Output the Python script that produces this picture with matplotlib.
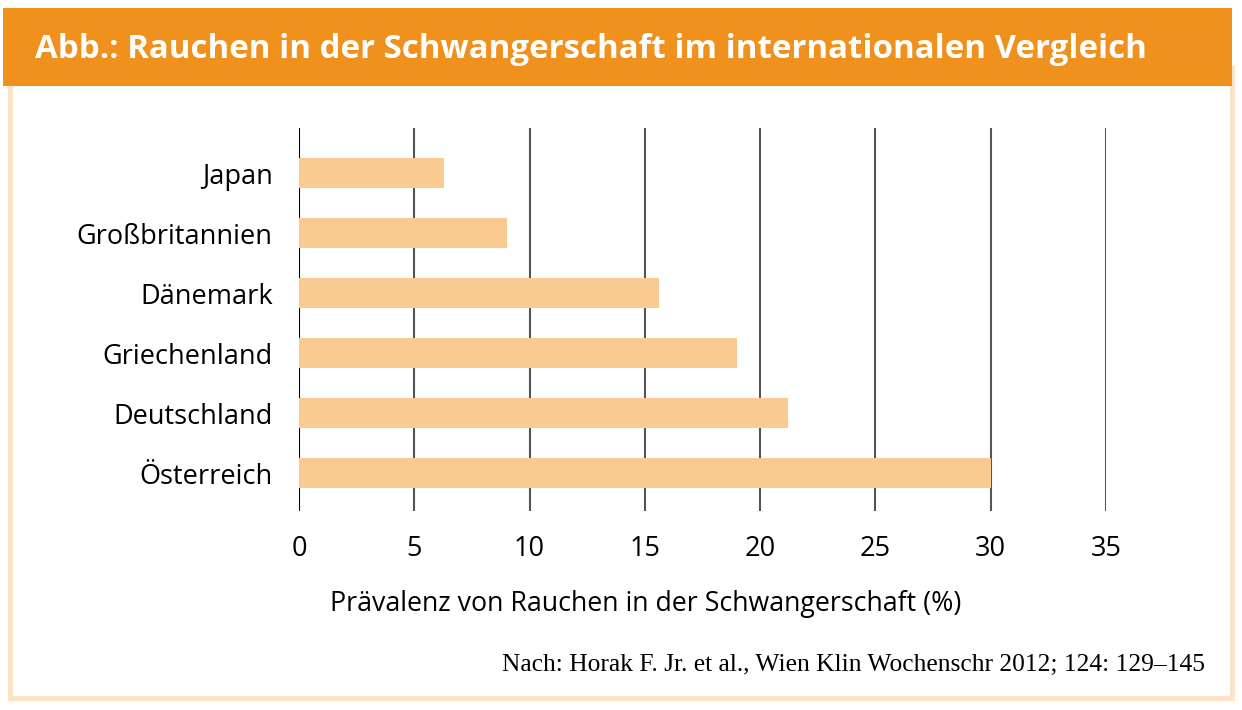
import matplotlib
matplotlib.use("Agg")
import matplotlib.pyplot as plt
from matplotlib.patches import Rectangle

countries = ["Österreich", "Deutschland", "Griechenland", "Dänemark", "Großbritannien", "Japan"]
values = [30.0, 21.2, 19.0, 15.6, 9.0, 6.3]
xticks = [0, 5, 10, 15, 20, 25, 30, 35]

title = "Abb.: Rauchen in der Schwangerschaft im internationalen Vergleich"
xlabel = "Prävalenz von Rauchen in der Schwangerschaft (%)"
source = "Nach: Horak F. Jr. et al., Wien Klin Wochenschr 2012; 124: 129–145"

W, H = 1242, 710
fig = plt.figure(figsize=(W / 100, H / 100), dpi=100)
fig.patch.set_facecolor("white")

# frame border
fig.patches.append(Rectangle((10 / W, 12 / H), 1222 / W, 630 / H, transform=fig.transFigure,
                             facecolor="none", edgecolor="#FDE3C5", linewidth=3.5, zorder=0))
# header band
fig.patches.append(Rectangle((3 / W, 1 - 86 / H), 1229 / W, 78 / H, transform=fig.transFigure,
                             facecolor="#F0901D", edgecolor="none", zorder=1))
fig.text(35 / W, 1 - 50 / H, title, color="white", fontsize=23.8, fontweight="bold",
         family="Open Sans", va="center", ha="left")

ax = fig.add_axes([299 / W, 1 - 511 / H, 807 / W, 383 / H])
ypos = list(range(len(countries)))
ax.barh(ypos, values, height=0.5, color="#F9CB90", zorder=2)
ax.set_xlim(0, 35)
ax.set_ylim(-0.633, 5.75)
for t in xticks:
    ax.axvline(t, color="black" if t == 0 else "#555555", linewidth=1.5, zorder=1)
ax.set_xticks(xticks)
ax.set_xticklabels([str(t) for t in xticks], fontsize=19.5, family="Open Sans")
ax.set_yticks(ypos)
ax.set_yticklabels(countries, fontsize=19.5, family="Open Sans")
ax.tick_params(axis="both", length=0)
ax.tick_params(axis="y", pad=19)
ax.tick_params(axis="x", pad=17)
for s in ax.spines.values():
    s.set_visible(False)

fig.text(646 / W, 1 - 604 / H, xlabel, fontsize=19.3, family="Open Sans", ha="center", va="center")
fig.text(1205 / W, 1 - 665 / H, source, fontsize=18.4, family="Liberation Serif", ha="right", va="center")

fig.savefig("out.png", dpi=100)
